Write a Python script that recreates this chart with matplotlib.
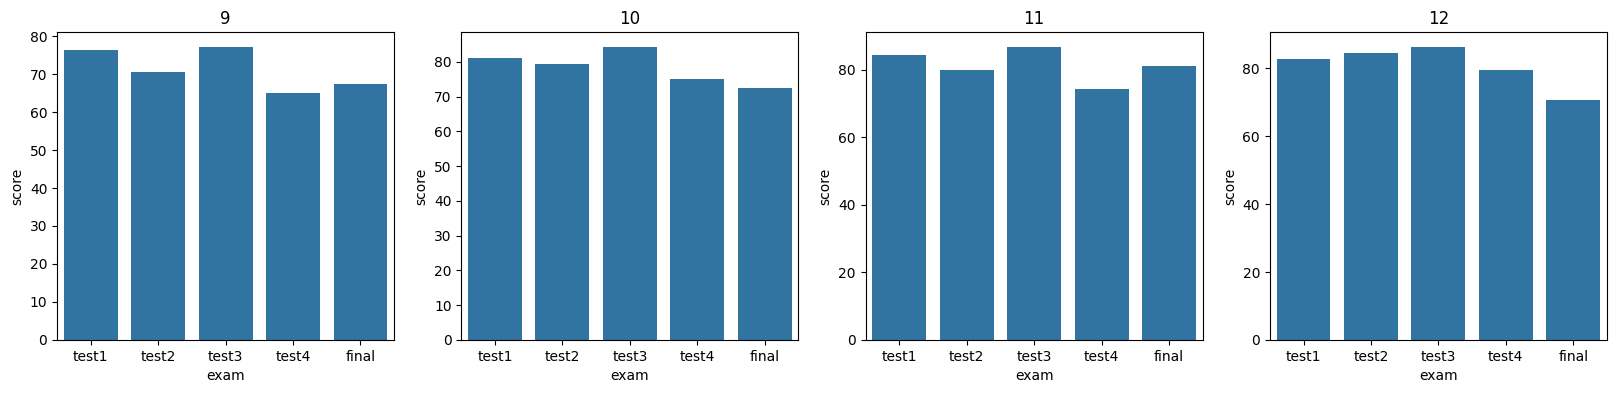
import matplotlib
matplotlib.use("Agg")
import matplotlib.pyplot as plt
import seaborn as sns
import pandas as pd

exams = ["test1", "test2", "test3", "test4", "final"]
grades = [9, 10, 11, 12]

# mean score per exam
score_9 = [76.4, 70.6, 77.2, 64.9, 67.5]
score_10 = [81.2, 79.5, 84.4, 75.2, 72.6]
score_11 = [84.5, 80.1, 86.9, 74.5, 81.3]
score_12 = [82.7, 84.5, 86.3, 79.5, 70.7]

scores = [score_9, score_10, score_11, score_12]

fig, axes = plt.subplots(1, 4, figsize=(16.16, 3.93), dpi=100)
for ax, grade, vals in zip(axes, grades, scores):
    df = pd.DataFrame({"exam": exams, "score": vals})
    sns.barplot(data=df, x="exam", y="score", ax=ax)
    ax.set_title(str(grade))

plt.subplots_adjust(left=0.0353, right=0.9944, top=0.9186, bottom=0.1349, wspace=0.199)
plt.savefig("out.png", dpi=100)
